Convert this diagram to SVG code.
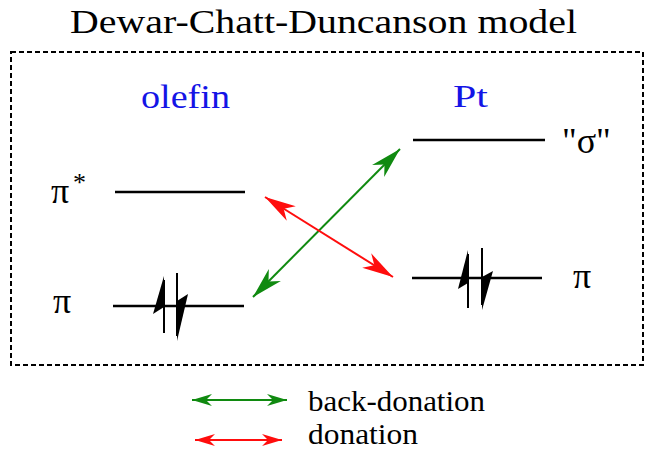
<svg xmlns="http://www.w3.org/2000/svg" width="645" height="450" viewBox="0 0 645 450">
<style>
.t{font-family:"Liberation Serif","Times New Roman",Times,"DejaVu Serif",serif;fill:#000}
.lbl{fill:#1414e6}
.lvl{stroke:#000;stroke-width:2.5;fill:none}
.e{stroke:#000;stroke-width:2;fill:none}
.eh{fill:#000;stroke:none}
.g{stroke:#108a10;stroke-width:2;fill:none}
.r{stroke:#ff0d0d;stroke-width:2;fill:none}
</style>
<defs>
<marker id="mg" markerUnits="userSpaceOnUse" viewBox="-32 -10 34 20" refX="0" refY="0" markerWidth="34" markerHeight="20" orient="auto-start-reverse"><path d="M0,0 L-31,-8.5 L-22,0 L-31,8.5 Z" fill="#108a10"/></marker>
<marker id="mr" markerUnits="userSpaceOnUse" viewBox="-32 -10 34 20" refX="0" refY="0" markerWidth="34" markerHeight="20" orient="auto-start-reverse"><path d="M0,0 L-31,-8.5 L-22,0 L-31,8.5 Z" fill="#ff0d0d"/></marker>
<marker id="mgs" markerUnits="userSpaceOnUse" viewBox="-22 -8 24 16" refX="0" refY="0" markerWidth="24" markerHeight="16" orient="auto-start-reverse"><path d="M0,0 L-20,-6 L-14,0 L-20,6 Z" fill="#108a10"/></marker>
<marker id="mrs" markerUnits="userSpaceOnUse" viewBox="-22 -8 24 16" refX="0" refY="0" markerWidth="24" markerHeight="16" orient="auto-start-reverse"><path d="M0,0 L-20,-6 L-14,0 L-20,6 Z" fill="#ff0d0d"/></marker>
</defs>
<text class="t" font-family="Liberation Serif, serif" x="70" y="33" font-size="34" textLength="507" lengthAdjust="spacingAndGlyphs">Dewar-Chatt-Duncanson model</text>
<rect x="11" y="52" width="632" height="313" fill="none" stroke="#000" stroke-width="2" stroke-dasharray="5 3"/>
<g id="olefin-label"><text class="t lbl" font-family="Liberation Serif, serif" x="141" y="108" font-size="34" textLength="89" lengthAdjust="spacingAndGlyphs">olefin</text></g>
<g id="pt-label"><text class="t lbl" font-family="Liberation Serif, serif" x="453" y="107" font-size="32" textLength="35" lengthAdjust="spacingAndGlyphs">Pt</text></g>
<g id="olefin-pistar">
<text class="t" font-family="Liberation Serif, serif" x="51" y="203" font-size="36">π</text><text class="t" font-family="Liberation Serif, serif" x="73" y="191" font-size="26">*</text>
<line class="lvl" x1="115" y1="192" x2="245" y2="192"/>
</g>
<g id="olefin-pi">
<text class="t" font-family="Liberation Serif, serif" x="53" y="313" font-size="36">π</text>
<line class="lvl" x1="113" y1="306" x2="244" y2="306"/>
<line class="e" x1="164" y1="280" x2="164" y2="333"/>
<polygon class="eh" points="164,276 153,314 164,307"/>
<line class="e" x1="177" y1="273" x2="177" y2="336"/>
<polygon class="eh" points="177,341 188,294 177,301"/>
</g>
<g id="pt-sigma">
<text class="t" font-family="Liberation Serif, serif" x="562" y="153" font-size="36">"σ"</text>
<line class="lvl" x1="413" y1="140" x2="545" y2="140"/>
</g>
<g id="pt-pi">
<text class="t" font-family="Liberation Serif, serif" x="573" y="288" font-size="36">π</text>
<line class="lvl" x1="412" y1="278" x2="542" y2="278"/>
<line class="e" x1="468" y1="254" x2="468" y2="308"/>
<polygon class="eh" points="468,250 458,289 468,283"/>
<line class="e" x1="482" y1="248" x2="482" y2="305"/>
<polygon class="eh" points="482,310 493,271 482,277"/>
</g>
<g id="connectors">
<line class="g" x1="253" y1="297" x2="400" y2="149" marker-start="url(#mg)" marker-end="url(#mg)"/>
<line class="r" x1="265" y1="197" x2="393" y2="277" marker-start="url(#mr)" marker-end="url(#mr)"/>
</g>
<g id="legend">
<line class="g" x1="192" y1="400" x2="287" y2="400" marker-start="url(#mgs)" marker-end="url(#mgs)"/>
<text class="t" font-family="Liberation Serif, serif" x="308" y="411" font-size="30" textLength="177" lengthAdjust="spacingAndGlyphs">back-donation</text>
<line class="r" x1="195" y1="440" x2="282" y2="440" marker-start="url(#mrs)" marker-end="url(#mrs)"/>
<text class="t" font-family="Liberation Serif, serif" x="308" y="444" font-size="29" textLength="110" lengthAdjust="spacingAndGlyphs">donation</text>
</g>
</svg>
